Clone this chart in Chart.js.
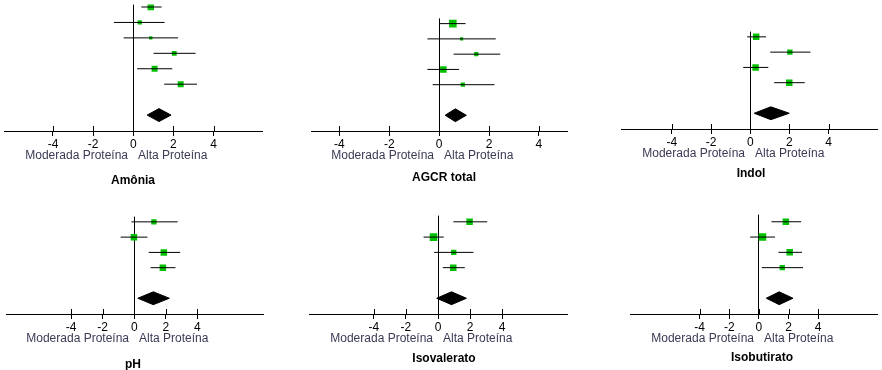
<!DOCTYPE html>
<html>
<head>
<meta charset="utf-8">
<script src="https://cdn.jsdelivr.net/npm/chart.js@4"></script>
<style>
  body { margin: 0; background: #fff; }
  #wrap { position: relative; width: 882px; height: 370px; overflow: hidden; background: #fff; }
  #wrap canvas { position: absolute; }
</style>
</head>
<body>
<div id="wrap"></div>
<script>
// tick labels shared by all six panels
const tickValues = [-4, -2, 0, 2, 4];
const leftLabel = 'Moderada Proteína';
const rightLabel = 'Alta Proteína';

// Amônia
const amoniaEst = [0.87, 0.32, 0.87, 2.04, 1.06, 2.36];
const amoniaLow = [0.40, -0.96, -0.48, 1.01, 0.19, 1.54];
const amoniaHigh = [1.41, 1.56, 2.23, 3.10, 1.94, 3.17];
const amoniaWeights = [25, 11, 6.5, 14, 21, 21];
const amoniaPooled = [0.69, 1.28, 1.88];

// AGCR total
const agcrEst = [0.55, 0.90, 1.49, 0.17, 0.95];
const agcrLow = [0.00, -0.47, 0.58, -0.47, -0.26];
const agcrHigh = [1.06, 2.27, 2.45, 0.80, 2.22];
const agcrWeights = [34, 6.25, 11, 25, 11];
const agcrPooled = [0.24, 0.65, 1.09];

// Indol
const indolEst = [0.30, 2.02, 0.27, 1.99];
const indolLow = [-0.16, 1.02, -0.36, 1.22];
const indolHigh = [0.80, 3.07, 0.92, 2.78];
const indolWeights = [25, 17, 25, 25];
const indolPooled = [0.20, 1.05, 1.99];

// pH
const phEst = [1.25, -0.02, 1.88, 1.82];
const phLow = [-0.18, -0.86, 0.92, 1.04];
const phHigh = [2.76, 0.84, 2.92, 2.62];
const phWeights = [17, 25, 25, 25];
const phPooled = [0.23, 1.21, 2.23];

// Isovalerato
const isovEst = [1.97, -0.28, 0.98, 0.95];
const isovLow = [0.96, -0.90, -0.24, 0.30];
const isovHigh = [3.07, 0.36, 2.21, 1.67];
const isovWeights = [25, 34, 17, 25];
const isovPooled = [-0.08, 0.84, 1.77];

// Isobutirato
const isobEst = [1.82, 0.24, 2.08, 1.58];
const isobLow = [0.85, -0.59, 1.32, 0.20];
const isobHigh = [2.85, 1.09, 2.91, 2.98];
const isobWeights = [25, 34, 25, 17];
const isobPooled = [0.50, 1.37, 2.30];

const FONT = '"Liberation Sans", Arial, sans-serif';
const ROW = 16; // px between study rows

// placement of each panel on the page
const panels = [
  { title: 'Amônia', est: amoniaEst, low: amoniaLow, high: amoniaHigh, w: amoniaWeights, pooled: amoniaPooled,
    left: 0, width: 267, top: 0, height: 131, xMin: -6.41, xMax: 6.43, titleY: 53, titleDx: 0 },
  { title: 'AGCR total', est: agcrEst, low: agcrLow, high: agcrHigh, w: agcrWeights, pooled: agcrPooled,
    left: 306, width: 267, top: 13, height: 118, xMin: -5.12, xMax: 5.15, titleY: 50, titleDx: 5 },
  { title: 'Indol', est: indolEst, low: indolLow, high: indolHigh, w: indolWeights, pooled: indolPooled,
    left: 617, width: 265, top: 27, height: 102, xMin: -6.57, xMax: 6.49, titleY: 48, titleDx: 1 },
  { title: 'pH', est: phEst, low: phLow, high: phHigh, w: phWeights, pooled: phPooled,
    left: 2, width: 266, top: 212, height: 102, xMin: -8.1, xMax: 8.2, titleY: 54, titleDx: -1 },
  { title: 'Isovalerato', est: isovEst, low: isovLow, high: isovHigh, w: isovWeights, pooled: isovPooled,
    left: 305, width: 267, top: 211, height: 103, xMin: -8.01, xMax: 8.07, titleY: 48, titleDx: 6 },
  { title: 'Isobutirato', est: isobEst, low: isobLow, high: isobHigh, w: isobWeights, pooled: isobPooled,
    left: 626, width: 256, top: 210, height: 104, xMin: -8.66, xMax: 8.0, titleY: 47, titleDx: 3 }
];

// labels under the axis, title, and the upper half of the tick marks
const forestText = {
  id: 'forestText',
  afterDraw(chart, args, opts) {
    const ctx = chart.ctx;
    const xs = chart.scales.x;
    const x0 = Math.round(xs.getPixelForValue(0));
    const bottom = chart.chartArea.bottom;
    ctx.save();
    ctx.strokeStyle = '#000';
    ctx.lineWidth = 1;
    xs.ticks.forEach(t => {
      const px = Math.round(xs.getPixelForValue(t.value)) + 0.5;
      ctx.beginPath();
      ctx.moveTo(px, bottom - 5);
      ctx.lineTo(px, bottom);
      ctx.stroke();
    });
    ctx.font = '12px ' + FONT;
    ctx.fillStyle = '#3a3a55';
    ctx.textBaseline = 'alphabetic';
    ctx.textAlign = 'right';
    ctx.fillText(leftLabel, x0 - 5, bottom + 28);
    ctx.textAlign = 'left';
    ctx.fillText(rightLabel, x0 + 5, bottom + 28);
    ctx.font = 'bold 12px ' + FONT;
    ctx.fillStyle = '#000';
    ctx.textAlign = 'center';
    ctx.fillText(opts.title, x0 + opts.titleDx, bottom + opts.titleY);
    ctx.restore();
  }
};

const wrap = document.getElementById('wrap');

panels.forEach(p => {
  const n = p.est.length;
  const pooledRow = n + 2;
  const yMax = n + 3 + 1 / 32;
  const yMin = yMax - p.height / ROW;
  const half = 0.42; // diamond half height in rows

  const canvas = document.createElement('canvas');
  canvas.width = p.width;
  canvas.height = p.height + 60;
  canvas.style.left = p.left + 'px';
  canvas.style.top = p.top + 'px';
  wrap.appendChild(canvas);

  const datasets = [];
  // pooled diamond: upper half filled down to lower half
  datasets.push({
    data: [{ x: p.pooled[0], y: pooledRow }, { x: p.pooled[1], y: pooledRow - half }, { x: p.pooled[2], y: pooledRow }],
    borderColor: '#000', backgroundColor: '#000', borderWidth: 1, pointRadius: 0, tension: 0, fill: '+1'
  });
  datasets.push({
    data: [{ x: p.pooled[0], y: pooledRow }, { x: p.pooled[1], y: pooledRow + half }, { x: p.pooled[2], y: pooledRow }],
    borderColor: '#000', borderWidth: 1, pointRadius: 0, tension: 0, fill: false
  });
  // confidence intervals
  for (let i = 0; i < n; i++) {
    datasets.push({
      data: [{ x: p.low[i], y: i + 1 }, { x: p.high[i], y: i + 1 }],
      borderColor: '#000', borderWidth: 1, pointRadius: 0, fill: false
    });
  }
  // study estimates, square side grows with weight
  datasets.push({
    data: p.est.map((v, i) => ({ x: v, y: i + 1 })),
    showLine: false,
    pointStyle: 'rect',
    pointRadius: p.w.map(w => 1.3 * Math.sqrt(w) / Math.SQRT2),
    pointBackgroundColor: '#00c000',
    pointBorderWidth: 0,
    fill: false
  });

  new Chart(canvas, {
    type: 'line',
    data: { datasets },
    options: {
      responsive: false,
      animation: false,
      layout: { padding: { left: 0, right: 0, top: 0, bottom: 40 } },
      plugins: {
        legend: { display: false },
        tooltip: { enabled: false },
        forestText: { title: p.title, titleY: p.titleY, titleDx: p.titleDx }
      },
      scales: {
        x: {
          type: 'linear',
          min: p.xMin,
          max: p.xMax,
          afterBuildTicks: s => { s.ticks = tickValues.map(v => ({ value: v })); },
          afterFit: s => { s.height = 20; },
          border: { color: '#000', width: 1 },
          grid: {
            color: c => (c.tick && c.tick.value === 0 ? '#000' : 'rgba(0,0,0,0)'),
            tickColor: '#000',
            tickLength: 5,
            lineWidth: 1
          },
          ticks: {
            color: '#000',
            font: { family: FONT, size: 12 },
            padding: 1,
            maxRotation: 0,
            autoSkip: false
          }
        },
        y: { type: 'linear', display: false, reverse: true, min: yMin, max: yMax }
      }
    },
    plugins: [forestText]
  });
});
</script>
</body>
</html>
